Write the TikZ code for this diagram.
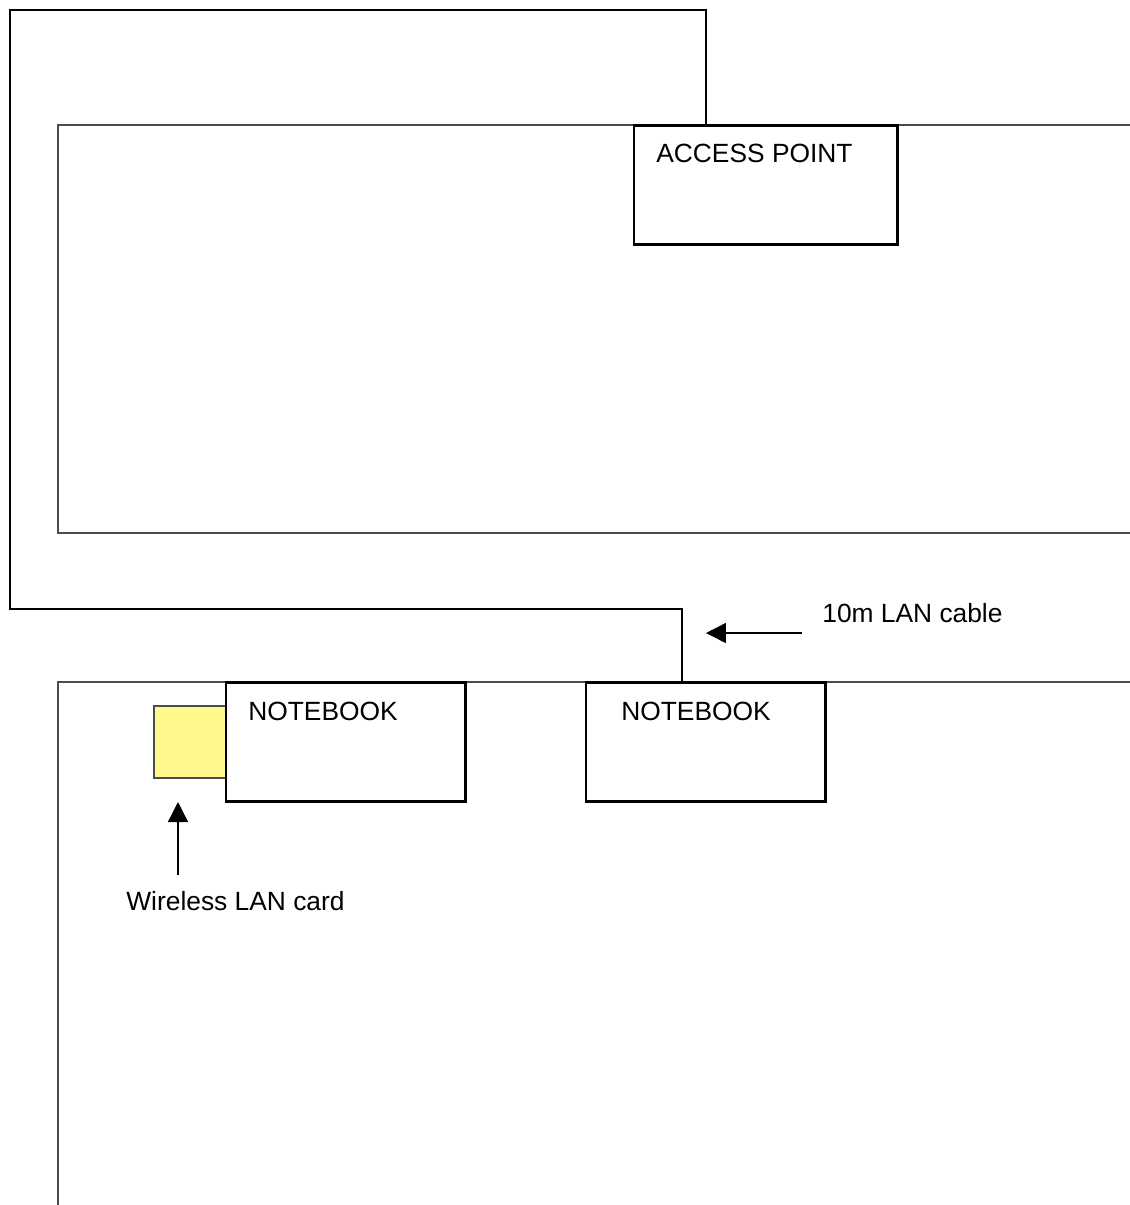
\documentclass[tikz,border=0pt]{standalone}
\usepackage{fontspec}
\setmainfont{Liberation Sans}
\usetikzlibrary{arrows.meta,positioning,calc}

\begin{document}
\begin{tikzpicture}[x=0.02cm,y=-0.02cm,>={Triangle[length=0.4cm,width=0.4cm]}]
  \tikzstyle{room}=[draw=black!70,line width=0.8pt]
  \tikzstyle{cable}=[draw,line width=0.8pt]
  \tikzstyle{device}=[draw,line width=1.7pt,fill=white,outer sep=0pt,minimum width=4.8cm,minimum height=2.4cm,anchor=north west]
  \tikzstyle{txt}=[inner sep=0pt,anchor=base west,font=\fontsize{15}{18}\selectfont]
  \useasboundingbox (0,0) rectangle (1130,1205);
  % rooms
  \draw[room] (1130,125) -- (58,125) -- (58,533) -- (1130,533);
  \draw[room] (1130,682) -- (58,682) -- (58,1205);
  % cable round the building
  \coordinate (apport) at (706,125);
  \coordinate (nbport) at (682,682);
  \draw[cable] (apport) |- (10,10) |- (682,609) -- (nbport);
  % devices
  \node[device,minimum width=5.28cm] (ap) at (634,125) {};
  \node[txt] at ($(ap.north west)+(22,37)$) {ACCESS POINT};
  \node[draw=black!70,line width=0.6pt,fill=yellow!45,outer sep=0pt,minimum size=1.44cm,anchor=north east] (card) at (226,706) {};
  \node[device] (nbA) at (226,682) {};
  \node[txt] at ($(nbA.north west)+(22,38)$) {NOTEBOOK};
  \node[device] (nbB) at (586,682) {};
  \node[txt] at ($(nbB.north west)+(35,38)$) {NOTEBOOK};
  % labels
  \node[txt] (cablelabel) at (822,622) {10m LAN cable};
  \coordinate (cabletail) at (802,633);
  \coordinate (cablehead) at (706,633);
  \draw[line width=0.8pt,->] (cabletail) -- (cablehead);
  \node[txt] (cardlabel) at (126,910) {Wireless LAN card};
  \coordinate (cardtail) at (178,875);
  \coordinate (cardhead) at (178,802);
  \draw[line width=0.8pt,->] (cardtail) -- (cardhead);
\end{tikzpicture}
\end{document}
